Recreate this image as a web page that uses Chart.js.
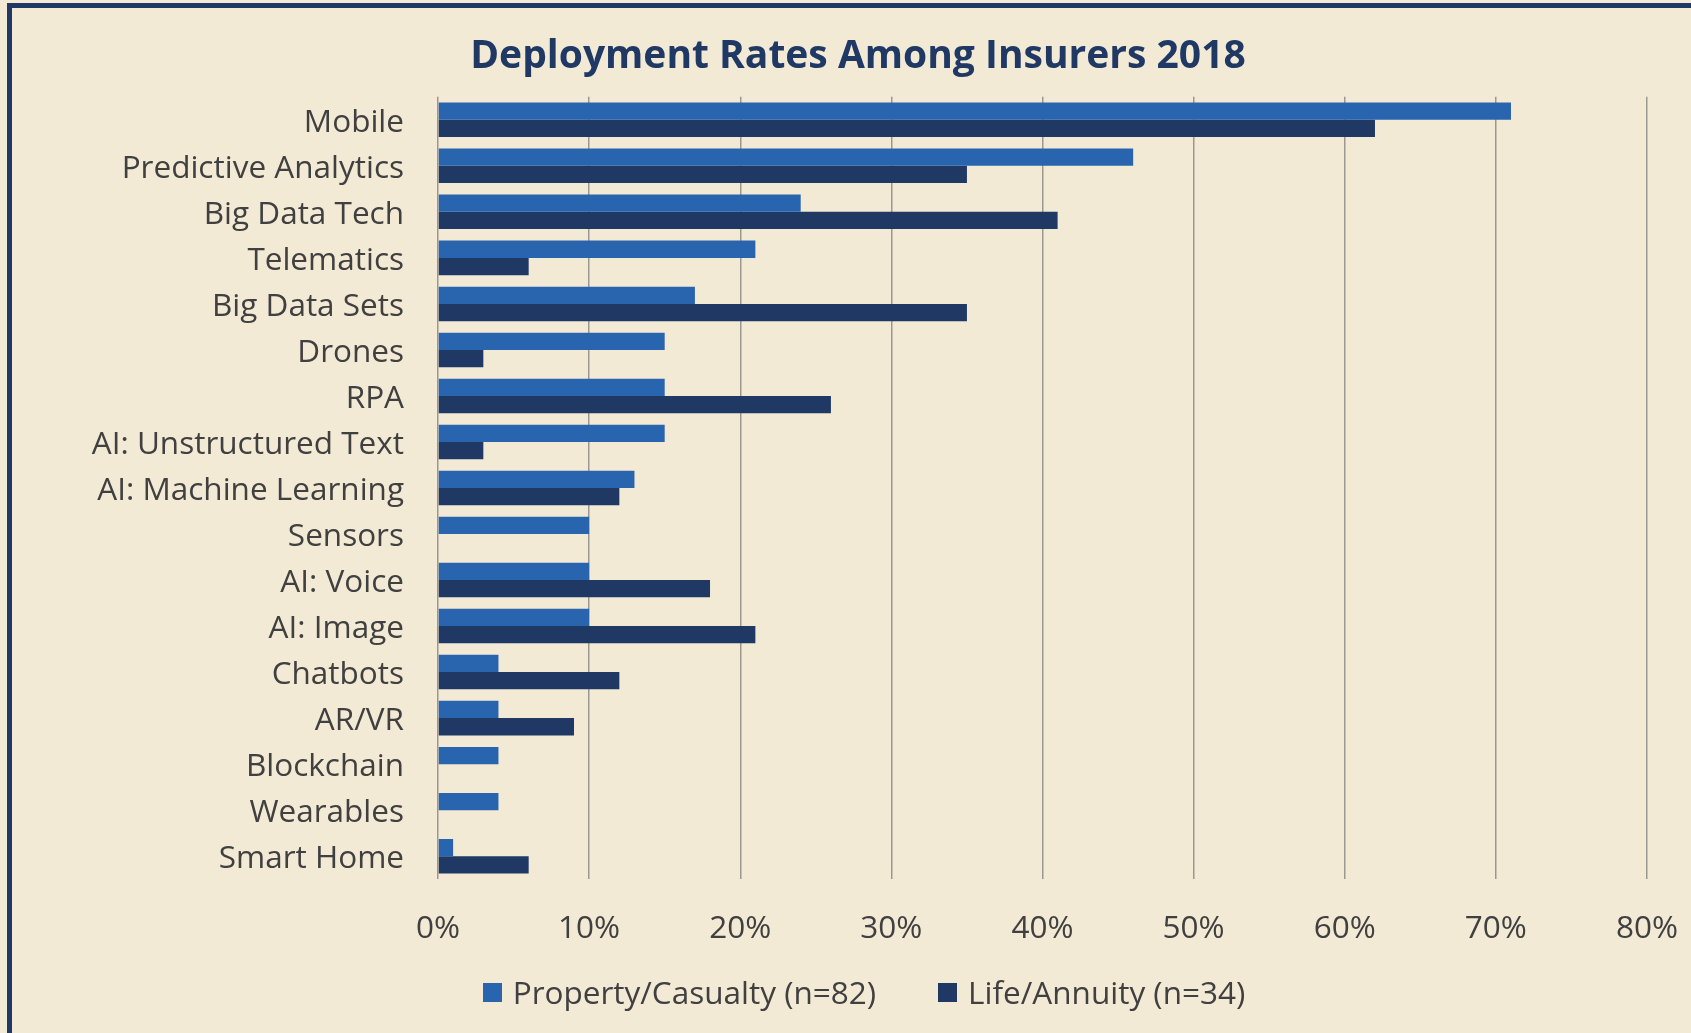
<!DOCTYPE html>
<html>
<head>
<meta charset="utf-8">
<script src="https://cdn.jsdelivr.net/npm/chart.js@4.4.0/dist/chart.umd.min.js"></script>
<style>
  html, body { margin: 0; padding: 0; background: #f3ead6; overflow: hidden; }
  #wrap { position: absolute; left: 0; top: 0; width: 1691px; height: 1033px; }
  #frame {
    position: absolute; left: 7px; top: 3px; width: 1800px; height: 1200px;
    border-left: 5px solid #1f3864; border-top: 5px solid #1f3864;
    pointer-events: none;
  }
  #legend {
    position: absolute; left: 0; width: 1728px; top: 974px;
    display: flex; justify-content: center; align-items: center;
    font-family: "Open Sans", sans-serif; font-size: 31.5px; line-height: 36px; color: #404040;
  }
  .item { display: flex; align-items: center; margin: 0 31px; }
  .box { width: 19px; height: 19px; margin-right: 11px; }
</style>
</head>
<body>
<div id="wrap">
  <canvas id="chart" width="1691" height="1033"></canvas>
  <div id="frame"></div>
  <div id="legend"></div>
</div>
<script>
const categories = [
  "Mobile", "Predictive Analytics", "Big Data Tech", "Telematics", "Big Data Sets",
  "Drones", "RPA", "AI: Unstructured Text", "AI: Machine Learning", "Sensors",
  "AI: Voice", "AI: Image", "Chatbots", "AR/VR", "Blockchain", "Wearables", "Smart Home",
];
const propertyCasualty = [71, 46, 24, 21, 17, 15, 15, 15, 13, 10, 10, 10, 4, 4, 4, 4, 1];
const lifeAnnuity = [62, 35, 41, 6, 35, 3, 26, 3, 12, 0, 18, 21, 12, 9, 0, 0, 6];
const xTicks = [0, 10, 20, 30, 40, 50, 60, 70, 80];

const seriesNames = ["Property/Casualty (n=82)", "Life/Annuity (n=34)"];
const seriesColors = ["#2964ae", "#1f3864"];

const labelFont = { size: 31.5, family: "Open Sans" };

const ctx = document.getElementById("chart").getContext("2d");

const chart = new Chart(ctx, {
  type: "bar",
  data: {
    labels: categories,
    datasets: [
      {
        label: seriesNames[0],
        data: propertyCasualty,
        backgroundColor: seriesColors[0],
        categoryPercentage: 0.75,
        barPercentage: 1.0,
      },
      {
        label: seriesNames[1],
        data: lifeAnnuity,
        backgroundColor: seriesColors[1],
        categoryPercentage: 0.75,
        barPercentage: 1.0,
      },
    ],
  },
  options: {
    indexAxis: "y",
    responsive: false,
    animation: false,
    layout: {
      padding: { left: 69, right: 44, top: 0, bottom: 54 },
    },
    plugins: {
      legend: { display: false },
      tooltip: { enabled: false },
      title: {
        display: true,
        text: "Deployment Rates Among Insurers 2018",
        color: "#1f3864",
        font: { size: 39, family: "Open Sans", weight: "bold" },
        padding: { top: 33, bottom: 17 },
      },
    },
    scales: {
      x: {
        min: xTicks[0],
        max: xTicks[xTicks.length - 1],
        afterBuildTicks: (scale) => {
          scale.ticks = xTicks.map((v) => ({ value: v }));
        },
        afterFit: (scale) => {
          // let the last tick label hang into the right margin
          scale.paddingRight = 0;
          scale.paddingLeft = 0;
        },
        border: { display: false },
        grid: {
          color: "#9b9791",
          lineWidth: 1.5,
          drawTicks: false,
        },
        ticks: {
          padding: 31,
          color: "#404040",
          font: labelFont,
          callback: (v) => v + "%",
        },
      },
      y: {
        afterFit: (scale) => {
          scale.width = 369;
        },
        border: { display: false },
        grid: { display: false, drawTicks: false },
        ticks: {
          padding: 34,
          labelOffset: 3,
          color: "#404040",
          font: labelFont,
        },
      },
    },
  },
});

// legend as html, built from the datasets
const legendEl = document.getElementById("legend");
chart.data.datasets.forEach((ds) => {
  const item = document.createElement("div");
  item.className = "item";
  item.innerHTML = `<span class="box" style="background:${ds.backgroundColor}"></span><span>${ds.label}</span>`;
  legendEl.appendChild(item);
});
</script>
</body>
</html>
